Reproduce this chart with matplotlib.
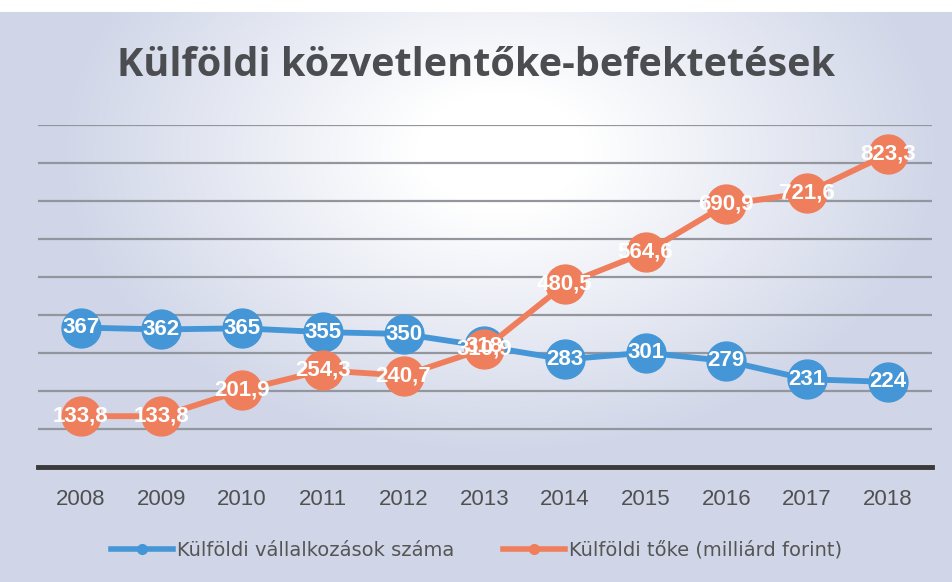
import numpy as np
import matplotlib
matplotlib.use("Agg")
import matplotlib.pyplot as plt
from matplotlib.lines import Line2D

years = ["2008", "2009", "2010", "2011", "2012", "2013", "2014", "2015", "2016", "2017", "2018"]
companies = [367, 362, 365, 355, 350, 318, 283, 301, 279, 231, 224]
capital = [133.8, 133.8, 201.9, 254.3, 240.7, 310.9, 480.5, 564.6, 690.9, 721.6, 823.3]
companies_name = "Külföldi vállalkozások száma"
capital_name = "Külföldi tőke (milliárd forint)"
title = "Külföldi közvetlentőke-befektetések"

BLUE = "#4596d6"
ORANGE = "#ef7f5c"
LAB = ["Liberation Sans", "DejaVu Sans"]
TITLEF = ["Open Sans", "DejaVu Sans"]

W, H = 953, 582
fig = plt.figure(figsize=(W / 100, H / 100), dpi=100)

# background gradient
bg = fig.add_axes([0, 0, 1, 1], zorder=-10)
yy, xx = np.mgrid[0:H, 0:W]
d = np.sqrt(((xx - 500) / 420.0) ** 2 + ((yy - 150) / 290.0) ** 2)
t = np.clip((d - 0.2) / 0.85, 0, 1)
edge = np.array([208, 214, 232]) / 255.0
img = (1 - t[..., None]) * np.ones(3) + t[..., None] * edge
img[:12, :, :] = 1.0
bg.imshow(img, aspect="auto", extent=[0, 1, 0, 1], origin="upper")
bg.axis("off")

ax = fig.add_axes([38 / W, 1 - 467 / H, (932 - 38) / W, (467 - 125) / H])
ax.patch.set_alpha(0)
x = np.arange(len(years))
ax.set_xlim(-0.53, len(years) - 1 + 0.55)
ax.set_ylim(0, 900)
ax.set_yticks(np.arange(100, 901, 100))
ax.yaxis.grid(True, color="#94969e", lw=1.6)
ax.set_axisbelow(True)
for s in ["top", "right", "left"]:
    ax.spines[s].set_visible(False)
ax.spines["bottom"].set_color("#3a3a3a")
ax.spines["bottom"].set_linewidth(3.5)
ax.tick_params(axis="y", left=False, labelleft=False)
ax.tick_params(axis="x", bottom=False, pad=12)
ax.set_xticks(x)
ax.set_xticklabels(years, fontsize=16, color="#505050", family=LAB)

ax.plot(x, companies, color=BLUE, lw=4.2, marker="o", ms=28, mec=BLUE, mfc=BLUE, zorder=3)
ax.plot(x, capital, color=ORANGE, lw=4.2, marker="o", ms=28, mec=ORANGE, mfc=ORANGE, zorder=4)

for xi, v in zip(x, companies):
    ax.text(xi, v, f"{v}", color="white", fontsize=16, fontweight="bold", family=LAB,
            ha="center", va="center", zorder=6)
for xi, v in zip(x, capital):
    ax.text(xi, v, f"{v:.1f}".replace(".", ","), color="white", fontsize=16, fontweight="bold",
            family=LAB, ha="center", va="center", zorder=6)

fig.text(0.5, 1 - 66 / H, title, ha="center", va="center", fontsize=28.5, fontweight="bold",
         color="#4b4d50", family=TITLEF)

handles = [
    Line2D([0], [0], color=BLUE, lw=4, marker="o", ms=7, mfc=BLUE, mec=BLUE),
    Line2D([0], [0], color=ORANGE, lw=4, marker="o", ms=7, mfc=ORANGE, mec=ORANGE),
]
fig.legend(handles, [companies_name, capital_name], loc="center", bbox_to_anchor=(0.5, 1 - 550 / H),
           ncol=2, frameon=False, prop={"family": ["DejaVu Sans"], "size": 14}, labelcolor="#555555",
           handlelength=3.2, handletextpad=0.2, columnspacing=2.5)

fig.savefig("out.png", dpi=100)
